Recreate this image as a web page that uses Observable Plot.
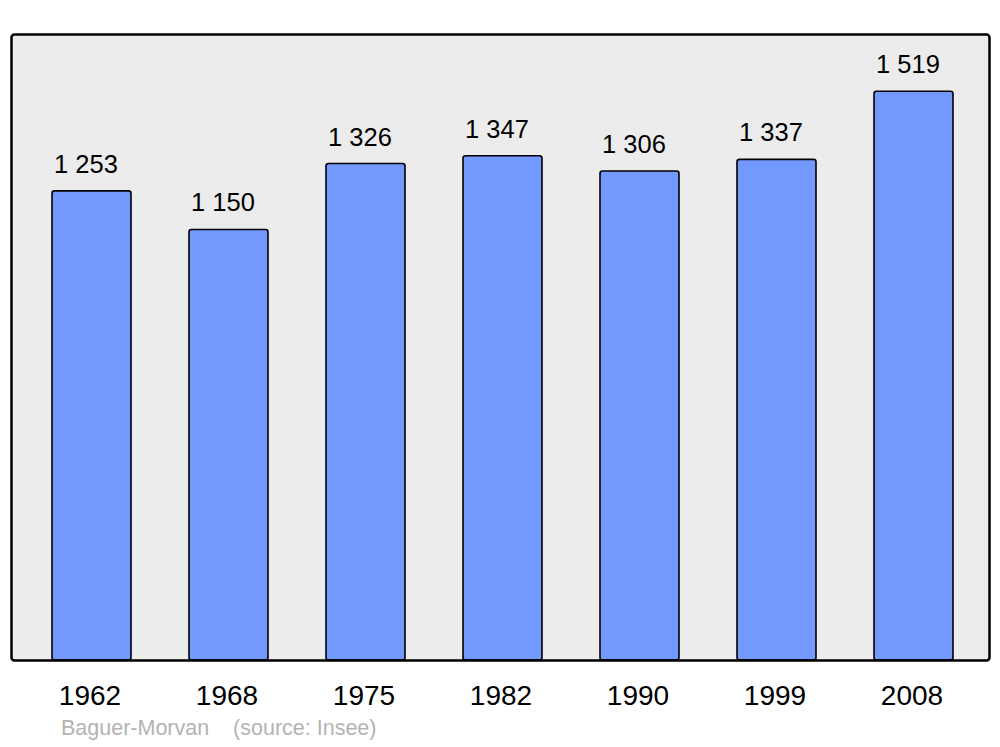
<!DOCTYPE html>
<html>
<head>
<meta charset="utf-8">
<script src="https://cdn.jsdelivr.net/npm/d3@7"></script>
<script src="https://cdn.jsdelivr.net/npm/@observablehq/plot@0.6"></script>
<style>
  body { margin: 0; background: #fff; font-family: "Liberation Sans", Arial, sans-serif; }
  #wrap { position: relative; width: 1000px; height: 747px; }
  #caption { position: absolute; left: 61px; top: 716px; font-size: 21.5px; color: #b3b3b3; white-space: pre; font-family: "Liberation Sans", Arial, sans-serif; }
</style>
</head>
<body>
<div id="wrap"><div id="caption">Baguer-Morvan    (source: Insee)</div></div>
<script>
const years = ["1962", "1968", "1975", "1982", "1990", "1999", "2008"];
const population = [1253, 1150, 1326, 1347, 1306, 1337, 1519];
const yMax = 1672;

const data = years.map((y, i) => ({year: y, value: population[i]}));
const fmt = v => d3.format(",")(v).replace(/,/g, " ");

const chart = Plot.plot({
  width: 1000,
  height: 747,
  marginLeft: 11,
  marginRight: 11,
  marginTop: 34,
  marginBottom: 87,
  style: {fontFamily: "Liberation Sans, Arial, sans-serif", background: "transparent"},
  x: {domain: years, paddingInner: 0.422, paddingOuter: 0.21, insetLeft: 10.5, insetRight: 5.5, label: null},
  y: {domain: [0, yMax], axis: null},
  marks: [
    Plot.frame({fill: "#ececec", stroke: null, rx: 3}),
    Plot.barY(data, {x: "year", y: "value", fill: "#7399ff", stroke: "#000", strokeWidth: 1.6, rx: 2.5}),
    Plot.text(data, {x: "year", y: "value", text: d => fmt(d.value), textAnchor: "start", lineAnchor: "bottom", dx: -38, dy: -18.5, fontSize: 25.5, fill: "#000"}),
    Plot.frame({stroke: "#000", strokeWidth: 2.5, rx: 3}),
    Plot.axisX({tickSize: 0, tickPadding: 25, fontSize: 28, label: null, color: "#000", dx: -2})
  ]
});
document.getElementById("wrap").prepend(chart);
chart.style.display = "block";
</script>
</body>
</html>
